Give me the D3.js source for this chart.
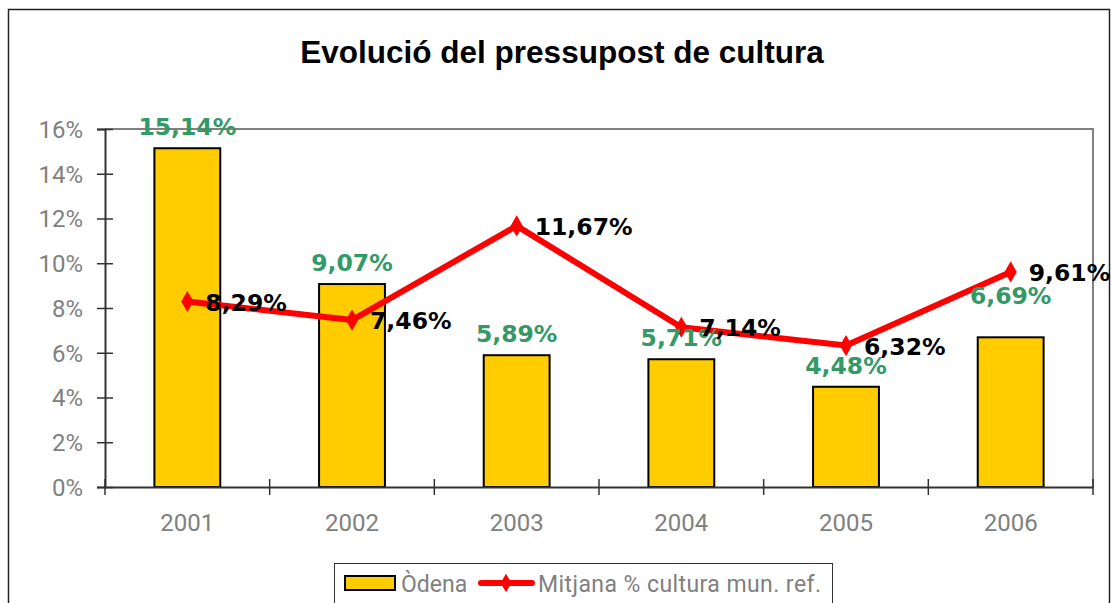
<!DOCTYPE html>
<html>
<head>
<meta charset="utf-8">
<script src="https://cdn.jsdelivr.net/npm/d3@7"></script>
<style>
body { margin: 0; background: #fff; }
</style>
</head>
<body>
<script>
let years = ["2001", "2002", "2003", "2004", "2005", "2006"]
let odena = [15.14, 9.07, 5.89, 5.71, 4.48, 6.69]
let mitjana = [8.29, 7.46, 11.67, 7.14, 6.32, 9.61]
let yTicks = [0, 2, 4, 6, 8, 10, 12, 14, 16]

let width = 1111
let height = 603
let plot = { left: 105, right: 1093, top: 129, bottom: 487 }

let svg = d3.select("body").append("svg")
    .attr("width", width)
    .attr("height", height)

let fmt = v => v.toFixed(2).replace(".", ",") + "%"
let thin = "Roboto, Liberation Sans, sans-serif"
let bold = "DejaVu Sans, Verdana, sans-serif"

// outer frame
svg.append("rect")
    .attr("x", 8.5).attr("y", 9.5)
    .attr("width", 1101).attr("height", 600)
    .attr("fill", "none").attr("stroke", "#222").attr("stroke-width", 1.5)

svg.append("text")
    .attr("x", 562).attr("y", 63)
    .attr("text-anchor", "middle")
    .attr("font-family", "Liberation Sans, Arial, sans-serif")
    .attr("font-weight", "bold").attr("font-size", 31.5)
    .text("Evolució del pressupost de cultura")

let x = d3.scaleBand().domain(years).range([plot.left, plot.right])
let y = d3.scaleLinear().domain([0, 16]).range([plot.bottom, plot.top])

// plot border top/right
svg.append("path")
    .attr("d", `M${plot.left},${plot.top}H${plot.right}V${plot.bottom}`)
    .attr("fill", "none").attr("stroke", "#808080").attr("stroke-width", 2)

// bars
let bw = x.bandwidth() * 0.4
svg.selectAll(".bar").data(odena).enter().append("rect")
    .attr("class", "bar")
    .attr("x", (d, i) => x(years[i]) + x.bandwidth() / 2 - bw / 2)
    .attr("y", d => y(d))
    .attr("width", bw)
    .attr("height", d => y(0) - y(d))
    .attr("fill", "#ffcc00").attr("stroke", "#000").attr("stroke-width", 2)

// y axis
let yAxis = svg.append("g")
    .attr("transform", `translate(${plot.left},0)`)
    .call(d3.axisLeft(y).tickValues(yTicks).tickSize(8).tickFormat(d => d + "%"))
yAxis.select(".domain").attr("stroke", "#333").attr("stroke-width", 2)
yAxis.selectAll(".tick line").attr("stroke", "#333").attr("stroke-width", 1.5).attr("x2", 8).attr("x1", -8)
yAxis.selectAll("text")
    .attr("x", -22).attr("dy", "0.35em")
    .attr("fill", "#808080")
    .attr("font-family", thin).attr("font-size", 24)

// x axis
let xAxis = svg.append("g")
    .attr("transform", `translate(0,${plot.bottom})`)
    .call(d3.axisBottom(x).tickSize(0))
xAxis.select(".domain").attr("stroke", "#333").attr("stroke-width", 2)
xAxis.selectAll("text")
    .attr("y", 44).attr("dy", 0)
    .attr("fill", "#808080")
    .attr("font-family", thin).attr("font-size", 24)
svg.selectAll(".xsep").data(d3.range(years.length + 1)).enter().append("line")
    .attr("x1", i => plot.left + i * x.bandwidth())
    .attr("x2", i => plot.left + i * x.bandwidth())
    .attr("y1", plot.bottom - 8).attr("y2", plot.bottom + 8)
    .attr("stroke", "#333").attr("stroke-width", 1.5)

// line
let cx = i => x(years[i]) + x.bandwidth() / 2
let line = d3.line().x((d, i) => cx(i)).y(d => y(d))
svg.append("path").datum(mitjana)
    .attr("d", line)
    .attr("fill", "none").attr("stroke", "#ff0000").attr("stroke-width", 6)
    .attr("stroke-linejoin", "round")
svg.selectAll(".mk").data(mitjana).enter().append("path")
    .attr("class", "mk")
    .attr("transform", (d, i) => `translate(${cx(i)},${y(d)})`)
    .attr("d", d3.symbol().type(d3.symbolDiamond).size(130))
    .attr("fill", "#ff0000")

// bar labels (last one pushed up above the line label, as in the original)
svg.selectAll(".bl").data(odena).enter().append("text")
    .attr("x", (d, i) => cx(i))
    .attr("y", (d, i) => y(d) - (i === years.length - 1 ? 33 : 13))
    .attr("text-anchor", "middle")
    .attr("fill", "#339966")
    .attr("font-family", bold)
    .attr("font-weight", "bold").attr("font-size", 23.5)
    .text(d => fmt(d))

// line labels
svg.selectAll(".ll").data(mitjana).enter().append("text")
    .attr("x", (d, i) => cx(i) + 18)
    .attr("y", d => y(d) + 9)
    .attr("fill", "#000")
    .attr("font-family", bold)
    .attr("font-weight", "bold").attr("font-size", 23.5)
    .text(d => fmt(d))

// legend
let lg = svg.append("g")
lg.append("rect").attr("x", 334.5).attr("y", 563.5).attr("width", 498).attr("height", 42)
    .attr("fill", "#fff").attr("stroke", "#333").attr("stroke-width", 1)
lg.append("rect").attr("x", 345).attr("y", 576).attr("width", 50).attr("height", 14)
    .attr("fill", "#ffcc00").attr("stroke", "#000").attr("stroke-width", 2)
lg.append("text").attr("x", 401).attr("y", 592)
    .attr("fill", "#808080").attr("font-family", thin).attr("font-size", 23)
    .text("Òdena")
lg.append("line").attr("x1", 481).attr("x2", 532).attr("y1", 583).attr("y2", 583)
    .attr("stroke", "#ff0000").attr("stroke-width", 6).attr("stroke-linecap", "round")
lg.append("path").attr("transform", "translate(506,583)")
    .attr("d", d3.symbol().type(d3.symbolDiamond).size(100)).attr("fill", "#ff0000")
lg.append("text").attr("x", 538).attr("y", 592)
    .attr("fill", "#808080").attr("font-family", thin).attr("font-size", 23)
    .attr("textLength", 283).attr("lengthAdjust", "spacing")
    .text("Mitjana % cultura mun. ref.")
</script>
</body>
</html>
